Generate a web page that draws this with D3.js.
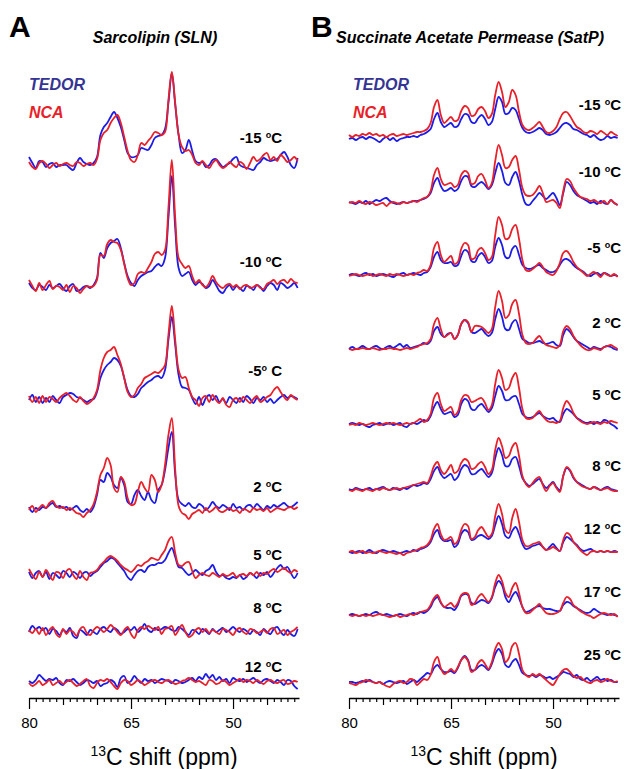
<!DOCTYPE html>
<html>
<head>
<meta charset="utf-8">
<script src="https://cdn.jsdelivr.net/npm/d3@7"></script>
<style>
  body { margin: 0; background: #fff; }
  svg text { font-family: Arial, "Liberation Sans", sans-serif; white-space: pre; }
</style>
</head>
<body>
<svg id="chart" width="626" height="769"></svg>
<script>
// chemical shift sampling points (ppm), shared by every trace
const ppm = [80, 79.5, 79, 78.5, 78, 77.5, 77, 76.5, 76, 75.5,
  75, 74.5, 74, 73.5, 73, 72.5, 72, 71.5, 71, 70.5,
  70, 69.5, 69, 68.5, 68, 67.5, 67, 66.5, 66, 65.5,
  65, 64.5, 64, 63.5, 63, 62.5, 62, 61.5, 61, 60.5,
  60, 59.5, 59, 58.5, 58, 57.5, 57, 56.5, 56, 55.5,
  55, 54.5, 54, 53.5, 53, 52.5, 52, 51.5, 51, 50.5,
  50, 49.5, 49, 48.5, 48, 47.5, 47, 46.5, 46, 45.5,
  45, 44.5, 44, 43.5, 43, 42.5, 42, 41.5, 41, 40.5];

const axisLabels = [80, 65, 50];

// ---- Sarcolipin (SLN) ----
const slnTemps = ["-15 °C", "-10 °C", "-5° C", "2 °C", "5 °C", "8 °C", "12 °C"];
const slnOffsets = [518, 395, 283, 173, 108, 51, 0]; // vertical stacking offsets (intensity units)

const slnTedor = [
  [8,2,-3,4,3,-2,1,2,-2,0, 0,0,-3,-5,2,7,3,1,0,2, 8,30,38,42,48,53,47,38,25,12, 8,8,10,17,16,15,20,27,29,30, 36,62,92,60,30,12,15,25,14,4, 2,3,-2,0,5,6,2,-2,0,2, 6,8,0,-2,-3,-4,-5,0,3,7, 5,4,5,6,10,13,8,0,-3,7],
  [5,0,-2,3,1,-2,3,0,2,4, 0,-3,2,4,-3,-2,1,2,0,3, 10,35,30,40,45,47,49,40,25,12, 5,2,8,12,14,16,17,21,24,22, 30,70,112,60,20,12,14,16,8,3, 6,4,0,2,8,3,-3,-5,0,3, -2,2,0,-3,2,1,-2,3,1,-3, 2,5,3,-2,5,3,0,2,5,0],
  [0,5,-2,3,-3,2,-2,4,0,-3, 3,5,7,6,3,2,0,-2,0,1, 8,22,30,35,38,42,40,34,22,10, 4,3,6,12,15,18,20,23,24,22, 30,60,83,55,25,13,12,10,2,-4, 3,-5,2,5,0,4,-2,1,-3,3, 0,-3,2,-2,4,1,-3,2,0,3, -2,1,-3,0,3,5,2,4,3,1],
  [3,-2,2,0,3,2,5,7,3,4, 2,3,0,2,4,0,-2,1,-2,3, 15,30,28,37,33,25,22,32,25,8, 6,15,20,14,10,18,10,7,20,25, 40,62,78,35,10,6,4,7,3,2, 6,4,0,3,8,4,2,5,3,0, 6,2,3,0,4,5,2,6,3,0, 4,2,5,3,5,7,4,3,5,8],
  [3,-3,2,4,-2,3,-4,2,0,-3, 4,2,-2,3,1,-3,2,3,-1,2, 4,8,12,14,17,16,12,8,4,-2, -5,0,4,5,3,8,10,10,12,12, 15,22,27,18,8,7,3,0,2,5, 2,0,4,6,10,3,-1,0,-3,-4, -2,-3,0,-4,-2,2,0,-3,2,0, 3,-2,2,7,10,6,8,2,-3,2],
  [0,6,3,5,2,4,-2,3,1,-3, 2,0,4,-4,-6,2,0,-3,2,0, -2,3,5,2,0,4,2,-2,0,3, 2,5,0,3,8,2,0,4,2,3, 5,4,2,1,5,3,0,-3,2,1, -2,3,1,-2,3,0,2,4,0,2, 5,2,0,3,1,-2,2,0,-3,3, 0,-2,3,5,0,-3,2,-2,-4,3],
  [2,0,3,8,5,2,4,3,5,0, -2,3,2,4,1,-2,0,3,2,0, 2,-3,-1,0,3,1,-4,5,7,0, 2,7,3,0,4,2,3,0,2,4, 3,2,0,3,2,0,1,3,5,2, 6,4,9,5,8,3,6,2,4,0, 5,3,2,4,1,3,5,2,0,3, 4,2,0,3,1,-2,3,2,-3,-6]
];

const slnNca = [
  [3,-2,-4,2,4,1,-3,0,2,-1, 1,2,0,-1,3,2,-1,1,2,0, 6,25,32,35,42,47,50,42,28,14, 5,3,10,22,20,24,28,33,32,30, 33,65,93,62,30,18,14,15,10,2, 0,4,0,-3,2,5,0,-3,-1,3, 0,-2,3,1,-4,2,8,4,6,10, 12,5,8,4,10,7,3,5,8,4],
  [8,2,-3,5,-2,3,7,-1,2,1, -2,3,-4,2,0,-5,-1,2,1,2, 8,33,32,44,48,46,45,38,24,10, 3,5,14,16,15,20,26,34,36,33, 38,80,128,70,30,24,20,22,12,5, 8,3,1,5,12,6,2,0,3,4, 1,3,-1,2,3,0,1,3,0,-1, 4,6,8,4,7,8,5,9,6,5],
  [4,-2,3,-3,4,-2,3,1,-2,2, 5,7,4,0,-2,3,-1,-4,-2,2, 10,30,42,48,50,53,45,36,22,8, 3,5,12,16,22,24,26,28,27,30, 35,65,94,60,30,22,23,12,3,0, -6,2,4,-2,5,0,-3,2,-5,-7, 0,2,-2,3,0,-3,1,4,-2,0, 3,5,10,13,8,3,0,5,2,0],
  [0,4,-2,2,5,2,7,9,4,2, 3,0,2,0,-3,-4,-7,-3,0,6, 18,35,42,52,45,22,18,33,28,12, 5,6,18,28,22,18,35,30,18,25, 45,75,92,40,4,-3,-5,-9,-4,-2, 0,-3,2,-2,0,3,-1,-2,0,2, -1,0,-3,1,0,-2,2,0,1,-1, 2,-2,0,2,1,0,2,3,1,3],
  [6,0,-4,3,-2,5,0,-5,3,2, -3,4,6,0,-4,4,-2,-5,2,3, 5,10,13,17,19,17,14,10,7,5, 3,6,10,9,12,14,17,16,15,20, 25,34,38,22,10,9,12,13,4,-3, 0,2,0,-1,2,0,-2,1,-1,0, 2,-2,0,1,-1,2,0,3,-1,2, 1,4,6,3,5,7,4,2,5,3],
  [2,-1,3,-2,4,-3,2,5,-2,-5, 3,-2,2,0,-4,3,5,-1,-3,2, 5,3,0,3,7,4,0,-3,2,5, -2,-6,2,5,3,6,4,2,5,-2, 3,4,6,-3,2,7,0,-5,-3,2, 4,0,3,-1,2,0,-2,3,2,0, -3,2,4,0,-2,3,2,-1,0,2, -1,3,4,-2,0,2,-3,0,2,5],
  [0,-3,-1,2,-2,0,3,-2,0,2, -1,1,3,0,-3,-1,2,4,-3,-5, 0,3,2,4,1,-3,-6,0,3,2, -2,0,3,1,-2,0,2,3,1,0, 2,3,1,-1,0,2,3,5,3,1, 2,0,-2,3,2,-1,0,3,1,-2, 0,2,4,1,3,2,0,3,1,-1, 2,3,1,0,2,3,-1,0,2,1]
];

// ---- Succinate Acetate Permease (SatP) ----
const satpTemps = ["-15 °C", "-10 °C", "-5 °C", "2 °C", "5 °C", "8 °C", "12 °C", "17 °C", "25 °C"];
const satpOffsets = [546, 480, 408, 334, 259, 195, 131, 68, 1];

const satpTedor = [
  [-2,-1,-3,-1,0,-2,0,-1,-3,-5, -2,0,-3,-1,-4,-2,-1,0,0,1, 0,2,3,5,8,18,24,15,10,12, 14,10,11,18,23,22,15,14,19,22, 18,12,15,28,40,35,23,24,29,27, 18,9,5,4,5,7,9,7,3,2, 3,5,9,13,14,12,8,7,5,3, 2,0,2,-1,-3,-2,1,-1,0,-1],
  [1,0,-1,1,0,2,-1,1,3,2, 4,5,2,0,-1,0,1,0,1,2, 2,3,4,6,10,20,25,17,12,13, 15,12,14,22,27,26,17,16,19,21, 18,14,18,30,40,32,20,18,26,31, 22,8,-1,-2,2,6,10,7,4,7, 10,5,-2,10,21,18,12,8,6,4, 2,0,1,-1,2,0,-1,3,0,-2],
  [0,1,0,-1,1,2,0,1,-1,0, 1,0,-1,-2,0,1,2,0,1,2, 1,0,2,3,8,18,23,15,12,12, 13,9,10,19,25,23,14,13,19,22, 18,12,14,28,37,30,18,17,26,29, 20,10,7,6,7,9,10,7,5,3, 3,5,10,15,16,14,10,7,5,3, 0,-1,1,2,0,2,1,-1,0,-1],
  [0,2,0,1,3,1,0,2,3,1, 0,2,3,1,3,5,2,4,1,2, 3,4,6,5,8,18,22,15,12,15, 16,10,14,25,29,26,17,16,18,20, 16,13,16,30,40,32,20,19,26,29, 20,10,8,6,6,7,8,6,5,6, 7,4,3,14,20,17,12,8,6,4, 2,0,2,1,0,2,3,2,0,-1],
  [0,1,0,-1,0,-2,-3,-1,0,1, -1,0,1,-1,0,1,-2,-3,0,1, 0,2,4,3,8,17,22,15,10,11, 12,7,9,20,25,23,15,14,18,20, 16,12,16,28,38,33,24,24,27,28, 20,10,7,6,7,9,11,8,6,5, 6,3,2,10,15,13,10,6,4,2, 1,2,0,2,1,4,3,0,-2,-5],
  [-1,-2,0,-1,-2,-1,0,-2,-1,0, 1,-1,-2,0,-1,-2,0,-1,1,3, 2,3,5,4,9,17,21,14,10,12, 14,8,11,19,23,21,14,14,17,19, 15,11,15,30,40,33,22,22,29,31, 22,10,5,2,4,7,9,4,0,3, 6,1,-2,12,20,17,10,6,4,2, 0,-1,1,0,-2,0,1,-1,-2,-3],
  [0,-1,0,1,-1,0,2,0,-1,1, 2,1,0,1,0,-1,0,1,0,2, 1,3,4,6,10,18,22,14,11,11, 12,5,8,18,22,20,12,13,16,17, 15,13,16,27,36,28,16,14,21,25, 18,8,3,4,6,7,8,5,2,5, 8,4,1,10,15,13,10,7,3,1, 2,3,1,0,1,0,1,0,1,0],
  [0,1,0,-1,0,1,0,2,3,1, 0,1,0,-1,0,1,0,-1,1,2, 1,3,2,4,8,15,18,12,8,7, 7,5,10,19,21,20,12,11,13,15, 14,12,17,28,34,30,18,13,19,23, 17,8,3,4,6,8,9,7,6,6, 5,4,4,10,13,12,9,7,5,3, 2,3,6,4,2,1,0,1,0,-1],
  [0,0,-1,0,1,0,2,0,-1,0, -2,0,1,0,-1,0,1,-2,0,2, 0,3,6,9,8,14,17,13,10,10, 11,9,14,22,26,22,12,12,15,17, 15,12,18,28,33,28,17,15,20,23, 17,9,7,6,7,5,7,6,4,5, 3,5,7,10,9,8,5,7,3,2, 4,1,3,5,2,3,1,2,0,0]
];

const satpNca = [
  [2,0,2,1,3,2,4,2,3,1, 2,0,2,3,1,2,3,2,3,4, 5,5,6,8,14,30,37,22,14,17, 20,16,17,26,31,29,21,22,28,30, 26,19,23,42,55,45,30,35,47,42, 25,12,8,7,9,12,15,10,5,4, 6,10,18,24,25,21,15,10,8,5, 4,6,5,3,6,4,2,5,3,1],
  [0,1,0,2,0,-1,1,0,-2,-1, 0,-3,0,1,0,-1,1,0,1,2, 1,3,5,6,12,28,35,24,18,19, 20,16,18,28,32,30,19,20,27,29, 23,15,20,42,58,48,35,36,43,47, 33,15,8,7,8,12,17,10,1,2, 3,0,-5,12,24,22,15,10,6,5, 4,2,3,1,0,2,-1,3,0,-2],
  [-1,0,1,0,-1,0,1,-1,0,1, 0,-1,1,0,1,0,-1,0,1,0, 2,3,5,4,10,27,33,20,13,16, 19,11,13,26,32,30,16,17,25,27, 22,15,18,40,58,50,36,37,46,50, 36,15,5,4,6,9,12,8,3,1, 0,4,12,22,24,20,13,8,5,2, -1,1,3,1,-2,2,0,-1,1,-2],
  [0,-1,0,0,1,0,0,1,0,-1, 0,0,1,0,0,-1,0,1,0,1, 2,4,5,6,10,25,31,20,12,14, 16,10,14,25,29,27,17,23,23,22, 19,16,20,42,58,48,31,34,45,49, 35,14,6,5,6,10,13,8,4,3, 2,1,4,18,23,20,13,8,4,1, -1,-1,1,0,-1,2,3,4,2,0],
  [-1,0,-1,1,0,-1,0,1,0,-1, 0,1,0,1,0,-1,0,1,0,1, 3,5,2,4,10,26,31,20,13,15, 17,9,12,24,29,28,22,23,25,26, 21,14,19,40,54,46,34,36,46,51, 36,15,6,5,6,10,13,8,4,2, 2,1,3,16,23,19,11,6,3,1, 0,1,2,1,0,2,1,3,2,1],
  [-2,-3,-1,-2,-3,-1,-2,-3,-1,-2, 0,-1,-2,-1,0,-1,0,1,2,3, 4,5,6,5,12,22,26,18,14,18, 23,15,17,25,29,27,19,20,24,26, 21,14,18,38,50,42,30,32,41,45, 32,12,4,1,5,9,11,3,-3,2, 5,0,-4,12,21,18,11,6,3,1, 0,-1,1,-1,-2,-1,0,-2,-3,-3],
  [0,1,-1,0,1,-1,0,-1,0,1, 0,-1,0,-1,-2,-1,-3,-1,0,1, 2,4,5,7,12,23,28,18,12,13, 15,8,11,22,28,26,13,15,22,25, 20,15,18,36,48,38,22,19,34,43, 30,12,6,6,8,9,10,5,2,3, 5,3,1,12,19,17,10,6,2,-1, -3,0,1,0,1,0,1,0,0,0],
  [0,-1,0,-1,0,-1,0,-1,0,1, 0,-1,-2,-1,0,-2,-1,0,1,0, 2,3,4,5,10,17,20,13,8,10, 12,8,12,20,22,21,10,12,18,21, 17,13,18,32,40,34,22,18,27,32, 22,8,2,2,5,8,11,6,2,1, 1,2,4,12,18,16,10,7,4,2, 0,-1,-3,-1,1,2,1,0,1,-2],
  [-1,-2,-3,-1,0,2,1,0,-1,0, -2,-4,-5,-2,0,1,-1,0,3,2, -3,0,3,2,7,20,25,14,8,10, 13,10,15,22,25,21,10,12,19,22, 18,13,20,33,39,33,20,24,36,39, 28,12,7,5,8,6,8,5,2,-1, -3,2,8,12,13,10,6,4,5,2, 0,-1,1,2,0,1,3,1,0,1]
];

class SpectraStack {

  constructor(_config, _data) {
    this.config = {
      parentElement: _config.parentElement,
      left: _config.left,
      width: _config.width || 270,
      axisY: _config.axisY || 698,
      letter: _config.letter,
      letterX: _config.letterX,
      title: _config.title,
      titleX: _config.titleX,
      titleAnchor: _config.titleAnchor || 'middle',
      legendX: _config.legendX,
      labelX: _config.labelX,
      labelLift: _config.labelLift
    }
    this.data = _data;
    this.initVis();
  }

  initVis() {
    let vis = this;

    vis.xScale = d3.scaleLinear()
        .domain([80, 40.3])
        .range([vis.config.left, vis.config.left + vis.config.width]);

    // intensity units -> pixels, stacked traces sit on top of each other
    vis.yScale = d3.scaleLinear()
        .domain([0, 600])
        .range([683, 83]);

    vis.svg = d3.select(vis.config.parentElement);
    vis.chart = vis.svg.append('g');

    // panel letter and title
    vis.chart.append('text')
        .attr('x', vis.config.letterX)
        .attr('y', 37)
        .attr('font-size', 30)
        .attr('font-weight', 'bold')
        .text(vis.config.letter);

    vis.chart.append('text')
        .attr('x', vis.config.titleX)
        .attr('y', 43)
        .attr('text-anchor', vis.config.titleAnchor)
        .attr('font-size', 16)
        .attr('font-weight', 'bold')
        .attr('font-style', 'italic')
        .text(vis.config.title);

    // legend
    vis.chart.append('text')
        .attr('x', vis.config.legendX)
        .attr('y', 90)
        .attr('font-size', 16)
        .attr('font-weight', 'bold')
        .attr('font-style', 'italic')
        .attr('fill', '#343494')
        .text('TEDOR');

    vis.chart.append('text')
        .attr('x', vis.config.legendX)
        .attr('y', 118)
        .attr('font-size', 16)
        .attr('font-weight', 'bold')
        .attr('font-style', 'italic')
        .attr('fill', '#e82128')
        .text('NCA');

    // x axis: minor tick every ppm, longer every 5, labels at 80/65/50
    vis.xAxis = d3.axisBottom(vis.xScale)
        .tickValues(d3.range(80, 40, -1))
        .tickSize(4)
        .tickSizeOuter(0)
        .tickFormat(d => axisLabels.includes(d) ? d : '');

    vis.xAxisG = vis.chart.append('g')
        .attr('class', 'axis x-axis')
        .attr('transform', `translate(0,${vis.config.axisY})`);

    vis.chart.append('text')
        .attr('x', vis.config.left + vis.config.width / 2)
        .attr('y', 765)
        .attr('text-anchor', 'middle')
        .call(t => {
          t.append('tspan').attr('font-size', 14).attr('dy', -9).text('13');
          t.append('tspan').attr('font-size', 23).attr('dy', 9).text('C shift (ppm)');
        });

    vis.updateVis();
  }

  updateVis() {
    let vis = this;

    vis.xAxisG.call(vis.xAxis);
    vis.xAxisG.select('.domain').attr('stroke-width', 1.3);
    vis.xAxisG.selectAll('.tick line')
        .attr('stroke-width', 1.2)
        .attr('y2', d => axisLabels.includes(d) ? 11 : (d % 5 === 0 ? 7 : 4));
    vis.xAxisG.selectAll('.tick text')
        .attr('y', 19)
        .attr('font-size', 15)
        .attr('font-family', 'Arial, "Liberation Sans", sans-serif');

    const rows = vis.data.temps.map((t, k) => ({
      temp: t,
      offset: vis.data.offsets[k],
      tedor: vis.data.tedor[k],
      nca: vis.data.nca[k],
      lift: vis.config.labelLift[k]
    }));

    const line = off => d3.line()
        .x((d, i) => vis.xScale(ppm[i]))
        .y(d => vis.yScale(d + off))
        .curve(d3.curveCatmullRom.alpha(0.5));

    const row = vis.chart.selectAll('.row')
        .data(rows)
        .join('g')
        .attr('class', 'row');

    row.append('path')
        .attr('fill', 'none')
        .attr('stroke', '#1c1ce6')
        .attr('stroke-width', 1.8)
        .attr('stroke-linejoin', 'round')
        .attr('d', d => line(d.offset)(d.tedor));

    row.append('path')
        .attr('fill', 'none')
        .attr('stroke', '#e8202a')
        .attr('stroke-width', 1.8)
        .attr('stroke-linejoin', 'round')
        .attr('d', d => line(d.offset)(d.nca));

    row.append('text')
        .attr('x', vis.config.labelX)
        .attr('y', d => vis.yScale(d.offset) - d.lift)
        .attr('text-anchor', 'end')
        .attr('font-size', 15)
        .attr('font-weight', 'bold')
        .each(function(d) {
          const parts = d.temp.split('°');
          const t = d3.select(this);
          t.append('tspan').text(parts[0]);
          t.append('tspan').attr('font-size', 9).attr('dy', -5).text('o');
          t.append('tspan').attr('dy', 5).text(parts[1]);
        });
  }
}

new SpectraStack({
  parentElement: '#chart',
  left: 29,
  letter: 'A', letterX: 9,
  title: 'Sarcolipin (SLN)', titleX: 155,
  legendX: 29,
  labelX: 282,
  labelLift: [22, 21, 24, 18, 15, 19, 11]
}, {temps: slnTemps, offsets: slnOffsets, tedor: slnTedor, nca: slnNca});

new SpectraStack({
  parentElement: '#chart',
  left: 349,
  letter: 'B', letterX: 311,
  title: 'Succinate Acetate Permease (SatP)', titleX: 336, titleAnchor: 'start',
  legendX: 353,
  labelX: 621,
  labelLift: [27, 26, 22, 21, 24, 17, 18, 18, 22]
}, {temps: satpTemps, offsets: satpOffsets, tedor: satpTedor, nca: satpNca});
</script>
</body>
</html>
